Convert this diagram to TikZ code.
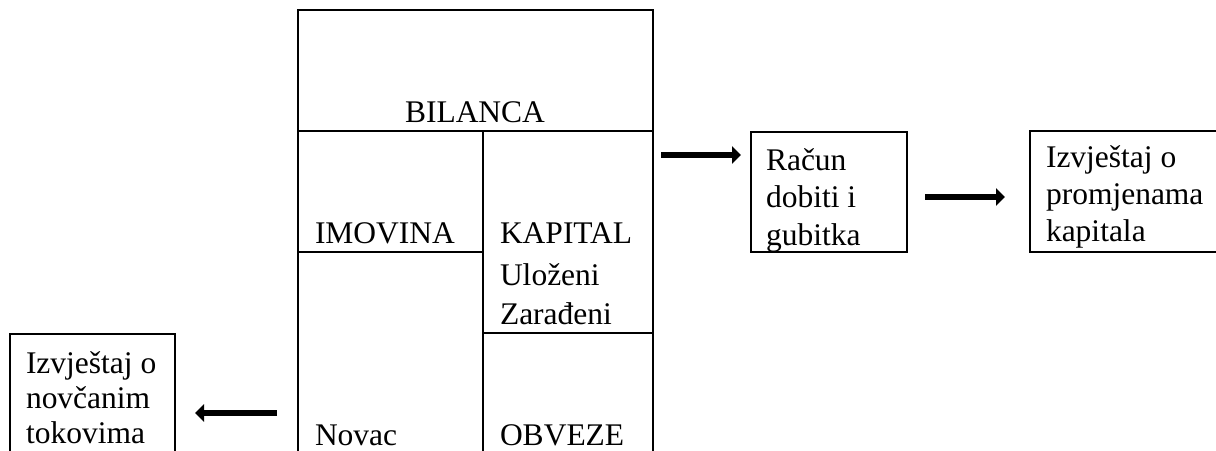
\documentclass[tikz,border=0pt]{standalone}
\usepackage{fontspec}
\setmainfont{Liberation Serif}
\usetikzlibrary{arrows.meta}
\begin{document}
\begin{tikzpicture}[x=1pt,y=-1pt,line width=2pt,
  lbl/.style={anchor=base west,inner sep=0pt,font=\fontsize{31.5}{37}\selectfont},
  boxline/.style={draw,line width=2.2pt},
  bigarrow/.style={line width=6pt,-{Triangle[length=9pt,width=17pt]}}]
\clip (0,0) rectangle (1216,450);
\fill[white] (0,0) rectangle (1216,450);
% BILANCA table
\coordinate (bTL) at (298,10);
\coordinate (bTR) at (653,10);
\coordinate (bBL) at (298,480);
\coordinate (bBR) at (653,480);
\coordinate (hL) at (298,131);
\coordinate (hR) at (653,131);
\coordinate (vT) at (483,131);
\coordinate (vB) at (483,480);
\coordinate (iL) at (298,252);
\coordinate (iR) at (483,252);
\coordinate (kL) at (483,333);
\coordinate (kR) at (653,333);
\draw[boxline] (bBL) -- (bTL) -- (bTR) -- (bBR);
\draw[boxline] (hL) -- (hR);
\draw[boxline] (vT) -- (vB);
\draw[boxline] (iL) -- (iR);
\draw[boxline] (kL) -- (kR);
\node[lbl,anchor=base] (bilanca) at (475,122) {BILANCA};
\node[lbl] (imovina) at (314,243) {IMOVINA};
\node[lbl] (kapital) at (499,243) {KAPITAL};
\node[lbl] (ulozeni) at (499,285) {Uloženi};
\node[lbl] (zaradeni) at (499,324) {Zarađeni};
\node[lbl] (novac) at (314,445) {Novac};
\node[lbl] (obveze) at (499,445) {OBVEZE};
% Racun box
\coordinate (rTL) at (751,132);
\coordinate (rBR) at (907,252);
\draw[boxline] (rTL) rectangle (rBR);
\node[lbl] (racun1) at (765,170) {Račun};
\node[lbl] (racun2) at (765,207) {dobiti i};
\node[lbl] (racun3) at (765,245) {gubitka};
% Izvjestaj o promjenama kapitala
\coordinate (pTL) at (1030,131);
\coordinate (pBR) at (1240,252);
\draw[boxline] (pTL) rectangle (pBR);
\node[lbl] (prom1) at (1045,167) {Izvještaj o};
\node[lbl] (prom2) at (1045,204) {promjenama};
\node[lbl] (prom3) at (1045,241) {kapitala};
% Izvjestaj o novcanim tokovima
\coordinate (nTL) at (10,334);
\coordinate (nTR) at (175,334);
\coordinate (nBL) at (10,480);
\coordinate (nBR) at (175,480);
\draw[boxline] (nBL) -- (nTL) -- (nTR) -- (nBR);
\node[lbl] (nov1) at (25,373) {Izvještaj o};
\node[lbl] (nov2) at (25,408) {novčanim};
\node[lbl] (nov3) at (25,443) {tokovima};
% arrows
\coordinate (a1s) at (661,155);
\coordinate (a1e) at (741,155);
\coordinate (a2s) at (925,197);
\coordinate (a2e) at (1005,197);
\coordinate (a3s) at (277,413);
\coordinate (a3e) at (195,413);
\draw[bigarrow] (a1s) -- (a1e);
\draw[bigarrow] (a2s) -- (a2e);
\draw[bigarrow] (a3s) -- (a3e);
\end{tikzpicture}
\end{document}
